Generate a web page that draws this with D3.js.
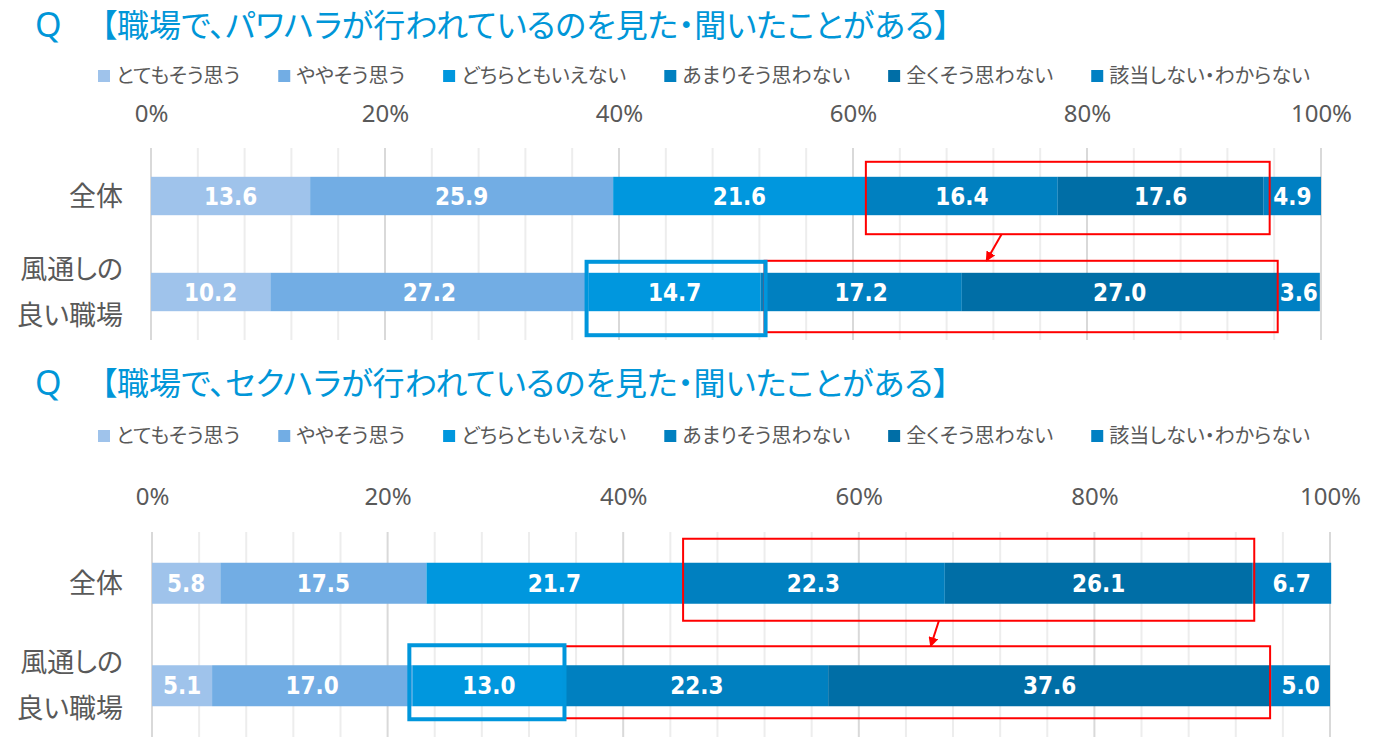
<!DOCTYPE html>
<html>
<head>
<meta charset="utf-8">
<script src="https://cdn.jsdelivr.net/npm/d3@7"></script>
<style>
  body { margin: 0; background: #fff; }
  svg { display: block; }
  .jp { font-family: "Noto Sans CJK JP", sans-serif; font-feature-settings: "palt"; }
</style>
</head>
<body>
<div id="chart"></div>
<script>
// --- données ---
const titles = [
  "【職場で、パワハラが行われているのを見た・聞いたことがある】",
  "【職場で、セクハラが行われているのを見た・聞いたことがある】"
];
const categories = ["全体", "風通しの\n良い職場"];
const seriesNames = ["とてもそう思う", "ややそう思う", "どちらともいえない", "あまりそう思わない", "全くそう思わない", "該当しない・わからない"];
const powerAll = [13.6, 25.9, 21.6, 16.4, 17.6, 4.9];
const powerGood = [10.2, 27.2, 14.7, 17.2, 27.0, 3.6];
const sexAll = [5.8, 17.5, 21.7, 22.3, 26.1, 6.7];
const sexGood = [5.1, 17.0, 13.0, 22.3, 37.6, 5.0];
const tickValues = [0, 20, 40, 60, 80, 100];

const colors = ["#9fc3eb", "#72ade4", "#0097de", "#0080c0", "#006ea6", "#0080c3"];
const textColor = "#595959";
const titleColor = "#0096d8";

// --- mise en page des deux panneaux ---
const panels = [
  {
    title: titles[0], rows: [powerAll, powerGood],
    titleY: 39, legendY: 76, tickY: 122, gridTop: 148, gridBottom: 340, x0: 151, x1: 1321,
    boxes: [
      { row: 0, from: 3, to: 4, color: "#ff0000", width: 2, pad: [0, 6, 15, 19] },
      { row: 1, from: 3, to: 4, color: "#ff0000", width: 2, pad: [4, 0, 12, 21] },
      { row: 1, from: 2, to: 2, color: "#0096dc", width: 4, pad: [-2, 5, 11, 24] }
    ],
    arrow: { from: 72.7, to: 71.4 }
  },
  {
    title: titles[1], rows: [sexAll, sexGood],
    titleY: 397, legendY: 436, tickY: 505, gridTop: 532, gridBottom: 737, x0: 152, x1: 1330,
    boxes: [
      { row: 0, from: 3, to: 4, color: "#ff0000", width: 2, pad: [1, 2, 24, 17] },
      { row: 1, from: 3, to: 4, color: "#ff0000", width: 2, pad: [-1, -1, 19, 12] },
      { row: 1, from: 2, to: 2, color: "#0096dc", width: 4, pad: [-3, -1, 20, 13] }
    ],
    arrow: { from: 66.8, to: 66.1 }
  }
];

const svg = d3.select("#chart").append("svg")
  .attr("width", 1384)
  .attr("height", 751);

svg.append("defs").append("marker")
  .attr("id", "head")
  .attr("viewBox", "0 0 10 10")
  .attr("refX", 9).attr("refY", 5)
  .attr("markerWidth", 5).attr("markerHeight", 5)
  .attr("orient", "auto")
  .append("path")
  .attr("d", "M0,0L10,5L0,10Z")
  .attr("fill", "#ff0000");

panels.forEach(drawPanel);

function drawPanel(p) {
  const g = svg.append("g");

  const x = d3.scaleLinear().domain([0, 100]).range([p.x0, p.x1]);
  const y = d3.scaleBand()
    .domain(d3.range(p.rows.length))
    .range([p.gridTop, p.gridBottom])
    .paddingInner(0.6)
    .paddingOuter(0.3);

  // Titre
  g.append("text")
    .attr("x", 35).attr("y", p.titleY - 2)
    .attr("font-family", "Noto Sans, sans-serif")
    .attr("font-size", 34)
    .attr("fill", titleColor)
    .text("Q");
  g.append("text")
    .attr("class", "jp")
    .attr("x", 101).attr("y", p.titleY - 2)
    .attr("font-size", 32)
    .attr("fill", titleColor)
    .text(p.title);

  // Légende
  let lx = 98;
  seriesNames.forEach((name, i) => {
    g.append("rect")
      .attr("x", lx).attr("y", p.legendY - 6)
      .attr("width", 12).attr("height", 12)
      .attr("fill", colors[i]);
    const t = g.append("text")
      .attr("class", "jp")
      .attr("x", lx + 18).attr("y", p.legendY)
      .attr("dy", "0.36em")
      .attr("font-size", 20)
      .attr("fill", textColor)
      .text(name);
    lx += 18 + t.node().getComputedTextLength() + 38;
  });

  // Grille (mineure tous les 4 %, majeure tous les 20 %)
  g.append("g")
    .selectAll("line")
    .data(d3.range(0, 101, 4))
    .join("line")
    .attr("x1", d => x(d)).attr("x2", d => x(d))
    .attr("y1", p.gridTop).attr("y2", p.gridBottom)
    .attr("stroke", d => d % 20 === 0 ? "#d9d9d9" : "#ededed")
    .attr("stroke-width", 2);

  // Axe du haut
  const axis = g.append("g")
    .attr("transform", `translate(0,${p.tickY})`)
    .call(d3.axisTop(x).tickValues(tickValues).tickSize(0).tickPadding(0).tickFormat(d => d + "%"));
  axis.select(".domain").remove();
  axis.selectAll("text")
    .attr("font-family", "Noto Sans, sans-serif")
    .attr("font-size", 24)
    .attr("fill", textColor);

  // Barres empilées
  p.rows.forEach((vals, r) => {
    let acc = 0;
    const segs = vals.map((v, i) => {
      const s = { i, v, start: acc, end: acc + v };
      acc += v;
      return s;
    });
    const row = g.append("g");
    row.selectAll("rect")
      .data(segs)
      .join("rect")
      .attr("x", d => x(d.start))
      .attr("y", y(r))
      .attr("width", d => x(d.end) - x(d.start))
      .attr("height", y.bandwidth())
      .attr("fill", d => colors[d.i]);
    row.selectAll("text")
      .data(segs)
      .join("text")
      .attr("x", d => (x(d.start) + x(d.end)) / 2)
      .attr("y", y(r) + y.bandwidth() / 2)
      .attr("dy", "0.36em")
      .attr("text-anchor", "middle")
      .attr("font-family", "DejaVu Sans Condensed, DejaVu Sans, sans-serif")
      .attr("font-weight", "bold")
      .attr("font-size", 24)
      .attr("fill", "#fff")
      .text(d => d.v.toFixed(1));

    // Libellé de catégorie
    const lines = categories[r].split("\n");
    const cy = y(r) + y.bandwidth() / 2;
    lines.forEach((line, k) => {
      g.append("text")
        .attr("class", "jp")
        .attr("x", 123)
        .attr("y", cy + (k - (lines.length - 1) / 2) * 46)
        .attr("dy", "0.36em")
        .attr("text-anchor", "end")
        .attr("font-size", 27)
        .attr("fill", textColor)
        .text(line);
    });
  });

  // Cadres de mise en évidence
  const cum = vals => d3.cumsum([0].concat(vals));
  p.boxes.forEach(b => {
    const c = cum(p.rows[b.row]);
    const bx0 = x(c[b.from]) + b.pad[0];
    const bx1 = x(c[b.to + 1]) + b.pad[1];
    const by0 = y(b.row) - b.pad[2];
    const by1 = y(b.row) + y.bandwidth() + b.pad[3];
    b.rect = [bx0, by0, bx1, by1];
    g.append("rect")
      .attr("x", bx0).attr("y", by0)
      .attr("width", bx1 - bx0).attr("height", by1 - by0)
      .attr("fill", "none")
      .attr("stroke", b.color)
      .attr("stroke-width", b.width);
  });

  // Flèche entre les deux cadres rouges
  g.append("line")
    .attr("x1", x(p.arrow.from)).attr("y1", p.boxes[0].rect[3])
    .attr("x2", x(p.arrow.to)).attr("y2", p.boxes[1].rect[1])
    .attr("stroke", "#ff0000")
    .attr("stroke-width", 2)
    .attr("marker-end", "url(#head)");
}
</script>
</body>
</html>
